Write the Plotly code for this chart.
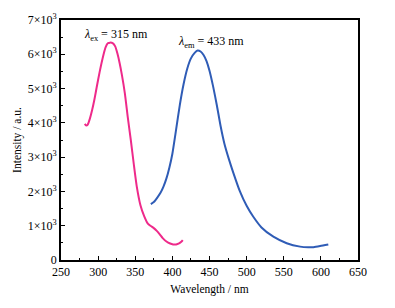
import plotly.graph_objects as go

ex_wl = [282, 284, 286, 289, 292, 295, 298, 302, 306, 310, 313, 316, 320, 323, 326, 329, 332, 336, 340, 344, 348, 352, 357, 362, 367, 371, 375, 379, 383, 387, 392, 397, 401, 405, 409, 412, 414]
ex_val = [3970, 3920, 3950, 4130, 4380, 4680, 5030, 5480, 5880, 6200, 6320, 6340, 6320, 6230, 6020, 5740, 5400, 4860, 4150, 3500, 2800, 2150, 1600, 1280, 1060, 990, 930, 850, 750, 640, 540, 480, 455, 455, 485, 530, 580]

em_wl = [371, 375, 379, 384, 388, 392, 396, 400, 405, 410, 415, 420, 425, 430, 434, 438, 442, 446, 450, 455, 460, 465, 470, 476, 482, 491, 500, 509, 520, 536, 554, 572, 583, 590, 599, 610]
em_val = [1630, 1690, 1800, 1960, 2140, 2380, 2700, 3100, 3800, 4520, 5120, 5580, 5880, 6040, 6110, 6080, 5980, 5800, 5520, 5050, 4500, 3900, 3400, 2950, 2550, 2000, 1580, 1260, 950, 680, 490, 390, 370, 375, 405, 450]

y_ticks = [0, 1000, 2000, 3000, 4000, 5000, 6000, 7000]
y_labels = ["0"] + [f"{i}×10<sup>3</sup>" for i in range(1, 8)]
x_ticks = [250, 300, 350, 400, 450, 500, 550, 600, 650]

font = "Liberation Serif, Times New Roman, serif"

fig = go.Figure()
fig.add_trace(go.Scatter(x=ex_wl, y=ex_val, mode="lines", line=dict(color="#ee2a8a", width=2, shape="spline", smoothing=0.6), showlegend=False))
fig.add_trace(go.Scatter(x=em_wl, y=em_val, mode="lines", line=dict(color="#2f5cb6", width=2, shape="spline", smoothing=0.6), showlegend=False))

fig.add_annotation(x=278, y=6560, xref="x", yref="y", text="<i>λ</i><sub>ex</sub> = 315 nm", showarrow=False, xanchor="left", yanchor="middle", font=dict(family=font, size=12, color="black"))
fig.add_annotation(x=405, y=6360, xref="x", yref="y", text="<i>λ</i><sub>em</sub> = 433 nm", showarrow=False, xanchor="left", yanchor="middle", font=dict(family=font, size=12, color="black"))

fig.update_layout(
    width=379, height=292,
    margin=dict(l=53, r=29, t=12, b=40, autoexpand=False),
    paper_bgcolor="white", plot_bgcolor="white",
    font=dict(family=font, size=12, color="black"),
    xaxis=dict(range=[250, 650], tickvals=x_ticks, ticks="inside", ticklen=4, tickwidth=1.2, tickcolor="black",
               minor=dict(ticks="inside", ticklen=2.5, dtick=25, tickcolor="black", tickwidth=1),
               showline=True, linecolor="black", linewidth=1.6, mirror=True, showgrid=False, zeroline=False,
               automargin=False,
               title=dict(text="Wavelength / nm", font=dict(family=font, size=11.5), standoff=7)),
    yaxis=dict(range=[0, 7000], tickvals=y_ticks, ticktext=y_labels, ticks="inside", ticklen=4, tickwidth=1.2, tickcolor="black",
               minor=dict(ticks="inside", ticklen=2.5, dtick=500, tickcolor="black", tickwidth=1),
               showline=True, linecolor="black", linewidth=1.6, mirror=True, showgrid=False, zeroline=False,
               automargin=False,
               title=dict(text="Intensity / a.u.", font=dict(family=font, size=11.5), standoff=4)),
)

fig.write_html("out.html")
